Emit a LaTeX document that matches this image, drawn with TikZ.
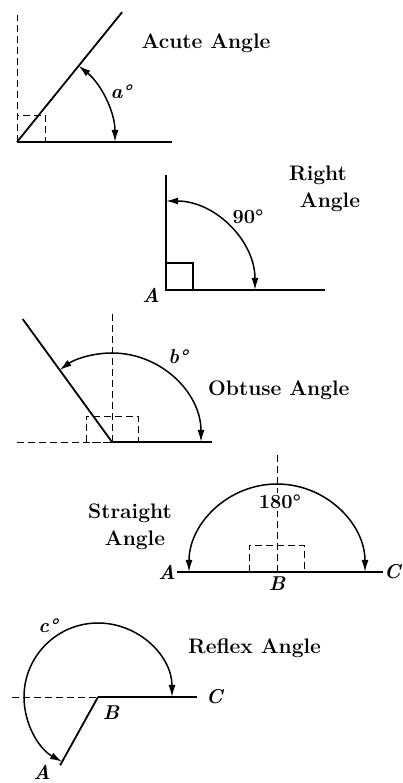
\documentclass[tikz,border=0pt]{standalone}
\usetikzlibrary{arrows.meta,calc}
\begin{document}
\begin{tikzpicture}[x=1pt,y=1pt,
  ray/.style={line width=1.8pt},
  guide/.style={line width=0.9pt, dash pattern=on 7pt off 4pt},
  sweep/.style={line width=1.5pt, {Latex[length=12pt,width=7pt]}-{Latex[length=12pt,width=7pt]}},
  title/.style={font=\fontsize{21}{24}\selectfont\bfseries, inner sep=1pt},
  ptlab/.style={font=\fontsize{20}{22}\selectfont\bfseries\itshape, inner sep=1pt},
  deglab/.style={font=\fontsize{20}{22}\selectfont\bfseries, inner sep=1pt}]
\useasboundingbox (0,0) rectangle (403,783);

% ---------- Acute angle ----------
\coordinate (O1) at (17,641);
\coordinate (H1) at (172,641);
\coordinate (R1) at ($(O1)+(51:167)$);
\coordinate (V1) at (17,768);
\draw[guide] (O1) -- (V1);
\draw[guide] (O1) rectangle ++(28,27);
\draw[ray] (O1) -- (H1);
\draw[ray] (O1) -- (R1);
\draw[sweep] ($(O1)+(0:98)$) arc (0:51:98);
\node[ptlab] (la) at (121,691) {a\textdegree};
\node[title] (tacute) at (206,740) {Acute Angle};

% ---------- Right angle ----------
\coordinate (O2) at (166,493);
\coordinate (H2) at (325,493);
\coordinate (V2) at (166,608);
\draw[ray] (V2) -- (O2) -- (H2);
\draw[line width=1.2pt] (O2) rectangle ++(27,27);
\draw[sweep] ($(O2)+(0:89)$) arc (0:90:89);
\node[deglab] (l90) at (248,566) {90\textdegree};
\node[title] (tright1) at (318,608) {Right};
\node[title] (tright2) at (330,581) {Angle};
\node[ptlab, anchor=east] (A2) at (161,488) {A};

% ---------- Obtuse angle ----------
\coordinate (O3) at (112,341);
\coordinate (H3) at (212,341);
\coordinate (L3) at (17,341);
\coordinate (V3) at (112,470);
\coordinate (R3) at ($(O3)+(126:152)$);
\draw[guide] (L3) -- (O3);
\draw[guide] (O3) -- (V3);
\draw[guide] (86,341) rectangle (138,367);
\draw[ray] (O3) -- (H3);
\draw[ray] (O3) -- (R3);
\draw[sweep] ($(O3)+(0:89)$) arc (0:126:89);
\node[ptlab] (lb) at (178,426) {b\textdegree};
\node[title, anchor=west] (tobtuse) at (207,393) {Obtuse Angle};

% ---------- Straight angle ----------
\coordinate (B4) at (277,211);
\coordinate (A4) at (177,211);
\coordinate (C4) at (383,211);
\coordinate (V4) at (277,328);
\draw[guide] (B4) -- (V4);
\draw[guide] (249,211) rectangle (304,238);
\draw[ray] (A4) -- (C4);
\draw[sweep] ($(B4)+(0:88)$) arc (0:180:88);
\node[deglab, fill=white, inner sep=2pt] (l180) at (280,281) {180\textdegree};
\node[title] (tstr1) at (130,270) {Straight};
\node[title] (tstr2) at (135,243) {Angle};
\node[ptlab, anchor=east] (lA4) at (A4) {A};
\node[ptlab, anchor=north] (lB4) at ($(B4)+(0,-4)$) {B};
\node[ptlab, anchor=west] (lC4) at (C4) {C};

% ---------- Reflex angle ----------
\coordinate (B5) at (98,86);
\coordinate (C5) at (197,86);
\coordinate (L5) at (12,86);
\coordinate (A5) at ($(B5)+(241:78)$);
\draw[guide] (L5) -- (B5);
\draw[ray] (B5) -- (C5);
\draw[ray] (B5) -- (A5);
\draw[sweep] ($(B5)+(0:74)$) arc (0:241:74);
\node[ptlab] (lc) at (48,157) {c\textdegree};
\node[title, anchor=west] (treflex) at (187,135) {Reflex Angle};
\node[ptlab, anchor=west] (lC5) at (205,86) {C};
\node[ptlab] (lB5) at (111,70) {B};
\node[ptlab] (lA5) at (42,11) {A};
\end{tikzpicture}
\end{document}
